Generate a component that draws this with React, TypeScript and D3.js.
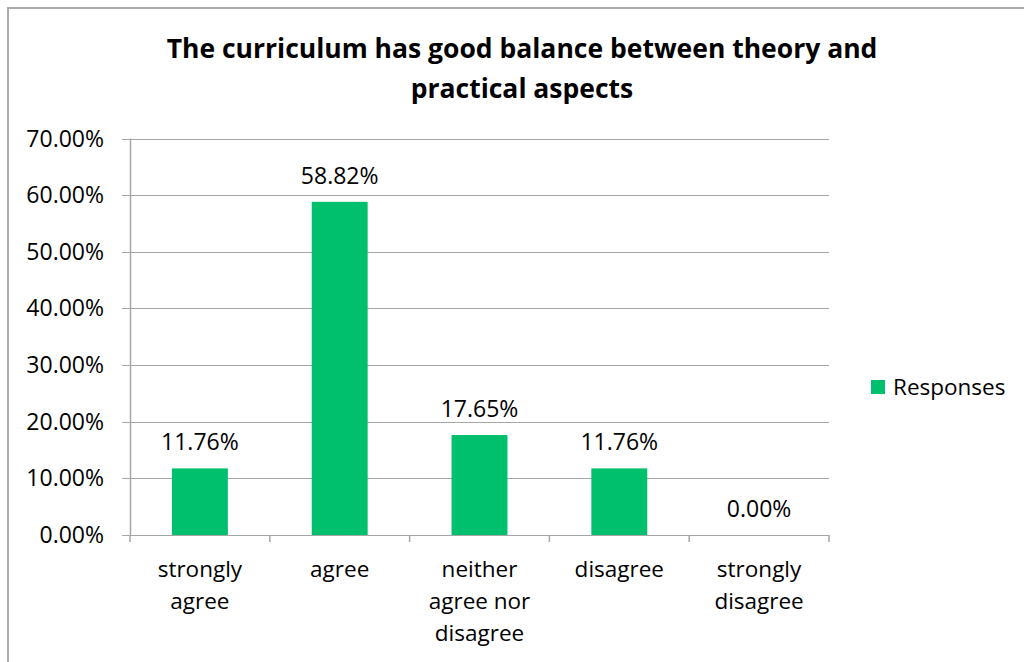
import React from "react";
import * as d3 from "d3";

const categories = ["strongly agree", "agree", "neither agree nor disagree", "disagree", "strongly disagree"];
const categoryLines = [["strongly", "agree"], ["agree"], ["neither", "agree nor", "disagree"], ["disagree"], ["strongly", "disagree"]];
const responses = [11.76, 58.82, 17.65, 11.76, 0.0];
const yTicks = [0, 10, 20, 30, 40, 50, 60, 70];
const titleLines = ["The curriculum has good balance between theory and", "practical aspects"];
const seriesName = "Responses";

const W = 1024;
const H = 662;
const FONT = "'Open Sans', 'Liberation Sans', sans-serif";
const GREEN = "#00c06e";
const GRID = "#a6a6a6";

export default function App() {
  const left = 130, right = 829, top = 138.5, bottom = 535;
  const x = d3.scaleBand<string>().domain(categories).range([left, right]).paddingInner(0.6).paddingOuter(0.3);
  const xb = d3.scaleBand<string>().domain(categories).range([left, right]);
  const y = d3.scaleLinear().domain([0, 70]).range([bottom, top]);

  return (
    <svg width={W} height={H} style={{ position: "absolute", left: 0, top: 0, fontFamily: FONT }}>
      <rect x={0} y={0} width={W} height={H} fill="#fff" />
      <path d={`M8,${H} V8 H${W}`} fill="none" stroke="#ababab" strokeWidth={2} />
      {titleLines.map((t, i) => (
        <text key={i} x={522} y={58 + i * 40} textAnchor="middle" fontSize={26.5} fontWeight="bold" fill="#000">{t}</text>
      ))}
      {yTicks.map((t) => (
        <g key={t}>
          <line x1={left - 8} x2={right} y1={Math.round(y(t)) + 0.5} y2={Math.round(y(t)) + 0.5} stroke={GRID} strokeWidth={1.2} />
          <text x={104} y={y(t) + 8} textAnchor="end" fontSize={23} fill="#000">{t.toFixed(2)}%</text>
        </g>
      ))}
      <line x1={left + 0.5} x2={left + 0.5} y1={top} y2={bottom} stroke={GRID} strokeWidth={1.5} />
      {categories.map((c) => (
        <line key={"t" + c} x1={xb(c)!} x2={xb(c)!} y1={bottom} y2={bottom + 7} stroke={GRID} strokeWidth={1.5} />
      ))}
      <line x1={right} x2={right} y1={bottom} y2={bottom + 7} stroke={GRID} strokeWidth={1.5} />
      {categories.map((c, i) => (
        <g key={c}>
          <rect x={x(c)!} width={x.bandwidth()} y={y(responses[i])} height={bottom - y(responses[i])} fill={GREEN} />
          <text x={x(c)! + x.bandwidth() / 2} y={y(responses[i]) - 18} textAnchor="middle" fontSize={23} fill="#000">{responses[i].toFixed(2)}%</text>
          {categoryLines[i].map((l, j) => (
            <text key={j} x={x(c)! + x.bandwidth() / 2} y={577 + j * 32} textAnchor="middle" fontSize={22.5} fill="#000">{l}</text>
          ))}
        </g>
      ))}
      <rect x={871} y={380} width={14} height={14} fill={GREEN} />
      <text x={893} y={395} fontSize={22.5} fill="#000">{seriesName}</text>
    </svg>
  );
}
